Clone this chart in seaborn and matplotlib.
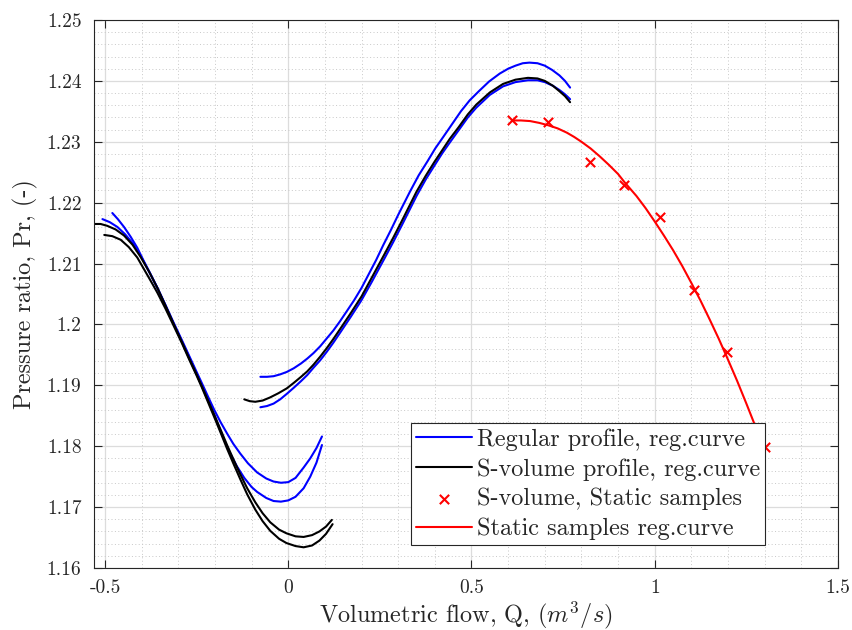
import numpy as np
import pandas as pd
import seaborn as sns
import matplotlib
matplotlib.use("Agg")
import matplotlib.pyplot as plt
from matplotlib.ticker import MultipleLocator, FixedLocator, FixedFormatter

# ---------------- data ----------------
# Regular profile (blue) – left branch, two curves
reg_left_a_x = [-0.480, -0.465, -0.448, -0.430, -0.412, -0.395, -0.376, -0.357, -0.335, -0.312, -0.290, -0.270, -0.250, -0.236, -0.220, -0.203, -0.185, -0.167, -0.150, -0.131, -0.110, -0.085, -0.060, -0.040, -0.020, 0.000, 0.020, 0.042, 0.060, 0.077, 0.092]
reg_left_a_y = [1.2183, 1.2173, 1.2160, 1.2144, 1.2126, 1.2105, 1.2083, 1.2060, 1.2032, 1.2002, 1.1974, 1.1948, 1.1922, 1.1904, 1.1883, 1.1861, 1.1840, 1.1821, 1.1804, 1.1788, 1.1772, 1.1757, 1.1747, 1.1742, 1.1740, 1.1741, 1.1748, 1.1765, 1.1780, 1.1797, 1.1816]
reg_left_b_x = [-0.507, -0.487, -0.466, -0.445, -0.421, -0.400, -0.380, -0.357, -0.335, -0.312, -0.290, -0.270, -0.250, -0.236, -0.220, -0.205, -0.190, -0.176, -0.158, -0.140, -0.120, -0.100, -0.085, -0.060, -0.040, -0.020, 0.000, 0.020, 0.042, 0.060, 0.077, 0.092]
reg_left_b_y = [1.2173, 1.2168, 1.2160, 1.2148, 1.2131, 1.2110, 1.2087, 1.2060, 1.2031, 1.2000, 1.1972, 1.1946, 1.1919, 1.1900, 1.1878, 1.1856, 1.1833, 1.1812, 1.1788, 1.1767, 1.1748, 1.1733, 1.1725, 1.1715, 1.1710, 1.1709, 1.1711, 1.1717, 1.1731, 1.1750, 1.1773, 1.1802]
# Regular profile (blue) – right branch, two curves
reg_right_a_x = [-0.076, -0.058, -0.040, -0.022, -0.004, 0.015, 0.035, 0.052, 0.069, 0.087, 0.105, 0.123, 0.141, 0.160, 0.180, 0.200, 0.220, 0.240, 0.259, 0.280, 0.300, 0.316, 0.332, 0.356, 0.380, 0.401, 0.423, 0.447, 0.471, 0.495, 0.520, 0.548, 0.577, 0.600, 0.620, 0.640, 0.658, 0.680, 0.700, 0.720, 0.740, 0.755, 0.769]
reg_right_a_y = [1.1914, 1.1914, 1.1915, 1.1918, 1.1922, 1.1928, 1.1936, 1.1944, 1.1953, 1.1964, 1.1977, 1.1990, 1.2005, 1.2022, 1.2040, 1.2060, 1.2083, 1.2106, 1.2130, 1.2155, 1.2180, 1.2199, 1.2218, 1.2245, 1.2268, 1.2289, 1.2308, 1.2329, 1.2350, 1.2368, 1.2383, 1.2399, 1.2412, 1.2420, 1.2425, 1.2429, 1.2430, 1.2429, 1.2425, 1.2418, 1.2409, 1.2400, 1.2389]
reg_right_b_x = [-0.076, -0.058, -0.040, -0.022, -0.004, 0.015, 0.035, 0.052, 0.069, 0.087, 0.105, 0.123, 0.141, 0.170, 0.200, 0.228, 0.246, 0.264, 0.287, 0.310, 0.330, 0.350, 0.375, 0.400, 0.420, 0.441, 0.465, 0.490, 0.513, 0.550, 0.586, 0.620, 0.654, 0.680, 0.700, 0.722, 0.740, 0.755, 0.769]
reg_right_b_y = [1.1864, 1.1866, 1.1870, 1.1877, 1.1886, 1.1896, 1.1907, 1.1917, 1.1929, 1.1941, 1.1955, 1.1970, 1.1986, 1.2012, 1.2040, 1.2070, 1.2090, 1.2110, 1.2136, 1.2163, 1.2187, 1.2211, 1.2238, 1.2262, 1.2281, 1.2299, 1.2319, 1.2340, 1.2356, 1.2377, 1.2391, 1.2398, 1.2401, 1.2401, 1.2398, 1.2392, 1.2385, 1.2378, 1.2370]

# S-volume profile (black) – left branch, two curves
sv_left_a_x = [-0.530, -0.512, -0.494, -0.471, -0.448, -0.425, -0.403, -0.380, -0.357, -0.335, -0.312, -0.290, -0.270, -0.250, -0.236, -0.218, -0.200, -0.183, -0.167, -0.150, -0.131, -0.112, -0.090, -0.070, -0.049, -0.025, -0.005, 0.020, 0.042, 0.065, 0.085, 0.103, 0.119]
sv_left_a_y = [1.2165, 1.2165, 1.2162, 1.2156, 1.2146, 1.2131, 1.2111, 1.2087, 1.2060, 1.2031, 1.2000, 1.1971, 1.1944, 1.1918, 1.1899, 1.1874, 1.1849, 1.1825, 1.1802, 1.1779, 1.1754, 1.1731, 1.1708, 1.1690, 1.1675, 1.1663, 1.1657, 1.1652, 1.1651, 1.1654, 1.1660, 1.1668, 1.1679]
sv_left_b_x = [-0.502, -0.480, -0.457, -0.435, -0.412, -0.390, -0.370, -0.357, -0.335, -0.312, -0.290, -0.270, -0.250, -0.236, -0.218, -0.200, -0.183, -0.167, -0.150, -0.131, -0.112, -0.090, -0.070, -0.049, -0.025, -0.005, 0.020, 0.042, 0.065, 0.085, 0.103, 0.121]
sv_left_b_y = [1.2147, 1.2145, 1.2139, 1.2127, 1.2110, 1.2087, 1.2066, 1.2052, 1.2026, 1.1997, 1.1969, 1.1942, 1.1916, 1.1897, 1.1871, 1.1845, 1.1820, 1.1796, 1.1772, 1.1746, 1.1721, 1.1696, 1.1677, 1.1661, 1.1648, 1.1641, 1.1636, 1.1634, 1.1637, 1.1645, 1.1656, 1.1672]
# S-volume profile (black) – right branch
sv_right_x = [-0.120, -0.105, -0.090, -0.070, -0.050, -0.027, -0.004, 0.015, 0.035, 0.052, 0.069, 0.087, 0.105, 0.123, 0.141, 0.170, 0.200, 0.228, 0.246, 0.264, 0.287, 0.310, 0.330, 0.350, 0.375, 0.400, 0.420, 0.441, 0.465, 0.490, 0.513, 0.550, 0.586, 0.620, 0.654, 0.680, 0.700, 0.722, 0.740, 0.755, 0.769]
sv_right_y = [1.1877, 1.1874, 1.1873, 1.1875, 1.1880, 1.1887, 1.1895, 1.1904, 1.1914, 1.1923, 1.1934, 1.1947, 1.1961, 1.1976, 1.1992, 1.2018, 1.2046, 1.2077, 1.2097, 1.2117, 1.2143, 1.2170, 1.2194, 1.2218, 1.2244, 1.2268, 1.2286, 1.2305, 1.2324, 1.2345, 1.2361, 1.2381, 1.2395, 1.2402, 1.2405, 1.2404, 1.2400, 1.2392, 1.2383, 1.2375, 1.2365]

# S-volume static samples (red crosses)
samples_x = [0.611, 0.708, 0.823, 0.917, 1.014, 1.107, 1.196, 1.300]
samples_y = [1.2335, 1.2333, 1.2267, 1.2229, 1.2177, 1.2057, 1.1954, 1.1799]
# Static samples regression curve (red)
static_curve_x = [0.610, 0.635, 0.660, 0.685, 0.710, 0.735, 0.760, 0.780, 0.800, 0.825, 0.850, 0.875, 0.900, 0.917, 0.950, 0.975, 1.000, 1.025, 1.050, 1.075, 1.100, 1.125, 1.150, 1.175, 1.200, 1.225, 1.250, 1.275, 1.300]
static_curve_y = [1.2335, 1.2335, 1.2334, 1.2331, 1.2327, 1.2322, 1.2315, 1.2308, 1.2300, 1.2289, 1.2276, 1.2262, 1.2247, 1.2234, 1.2211, 1.2191, 1.2169, 1.2146, 1.2122, 1.2096, 1.2068, 1.2039, 1.2008, 1.1976, 1.1942, 1.1907, 1.1870, 1.1832, 1.1792]

legend_labels = ["Regular profile, reg.curve", "S-volume profile, reg.curve",
                 "S-volume, Static samples", "Static samples reg.curve"]
x_ticks = [-0.5, 0, 0.5, 1, 1.5]
x_tick_labels = ["-0.5", "0", "0.5", "1", "1.5"]
y_ticks = [1.16, 1.17, 1.18, 1.19, 1.20, 1.21, 1.22, 1.23, 1.24, 1.25]
y_tick_labels = ["1.16", "1.17", "1.18", "1.19", "1.2", "1.21", "1.22", "1.23", "1.24", "1.25"]

# ---------------- style ----------------
sns.set_theme(style="white")
plt.rcParams.update({
    "font.family": "serif",
    "font.serif": ["cmr10"],
    "mathtext.fontset": "cm",
    "axes.unicode_minus": False,
    "axes.formatter.use_mathtext": True,
})

fig = plt.figure(figsize=(8.52, 6.30), dpi=100)
ax = fig.add_axes([94 / 852, 1 - 568 / 630, 744 / 852, 548 / 630])

BLUE = "#0000ff"
BLACK = "#000000"
RED = "#ff0000"
LW = 1.5

reg_curves = [(reg_left_a_x, reg_left_a_y), (reg_left_b_x, reg_left_b_y),
              (reg_right_a_x, reg_right_a_y), (reg_right_b_x, reg_right_b_y)]
for i, (cx, cy) in enumerate(reg_curves):
    sns.lineplot(x=cx, y=cy, ax=ax, color=BLUE, lw=LW, sort=False, estimator=None,
                 label=legend_labels[0] if i == 0 else None, legend=False)

sv_curves = [(sv_left_a_x, sv_left_a_y), (sv_left_b_x, sv_left_b_y), (sv_right_x, sv_right_y)]
for i, (cx, cy) in enumerate(sv_curves):
    sns.lineplot(x=cx, y=cy, ax=ax, color=BLACK, lw=LW, sort=False, estimator=None,
                 label=legend_labels[1] if i == 0 else None, legend=False)

sns.scatterplot(x=samples_x, y=samples_y, ax=ax, marker="x", color=RED, s=45,
                linewidth=1.5, label=legend_labels[2], legend=False, zorder=3)
sns.lineplot(x=static_curve_x, y=static_curve_y, ax=ax, color=RED, lw=LW, sort=False,
             estimator=None, label=legend_labels[3], legend=False)

# axes limits and ticks
ax.set_xlim(-0.53, 1.5)
ax.set_ylim(1.16, 1.25)
ax.xaxis.set_major_locator(FixedLocator(x_ticks))
ax.xaxis.set_major_formatter(FixedFormatter(x_tick_labels))
ax.yaxis.set_major_locator(FixedLocator(y_ticks))
ax.yaxis.set_major_formatter(FixedFormatter(y_tick_labels))
ax.xaxis.set_minor_locator(MultipleLocator(0.1))
ax.yaxis.set_minor_locator(MultipleLocator(0.002))

ax.grid(which="major", color="#dcdcdc", linestyle="-", linewidth=0.9)
ax.grid(which="minor", color="#c8c8c8", linestyle=(0, (1, 2.5)), linewidth=0.7)
ax.set_axisbelow(True)

ax.tick_params(which="major", direction="in", length=6, width=0.8, colors="#262626",
               labelsize=14, top=True, right=True, bottom=True, left=True,
               labelcolor="#262626")
ax.tick_params(axis="x", which="major", pad=8)
ax.tick_params(axis="y", which="major", pad=9)
ax.tick_params(which="minor", length=0)
for sp in ax.spines.values():
    sp.set_visible(True)
    sp.set_color("#262626")
    sp.set_linewidth(0.8)

ax.set_xlabel(r"Volumetric flow, Q, $(m^3/s)$", fontsize=17.5, color="#262626", labelpad=2)
ax.set_ylabel(r"Pressure ratio, Pr, (-)", fontsize=17.5, color="#262626", labelpad=6)

handles, labels = ax.get_legend_handles_labels()
order = [labels.index(l) for l in legend_labels]
leg = ax.legend([handles[i] for i in order], [labels[i] for i in order],
                loc="lower right", bbox_to_anchor=((765 - 94) / 744, (568 - 545) / 548),
                borderaxespad=0, fontsize=17.5, frameon=True, fancybox=False,
                edgecolor="#262626", framealpha=1, handlelength=2.3, handletextpad=0.2,
                labelspacing=0.3, borderpad=0.2)
leg.get_frame().set_linewidth(0.8)
for t in leg.get_texts():
    t.set_color("#262626")

fig.savefig("out.png", dpi=100)
